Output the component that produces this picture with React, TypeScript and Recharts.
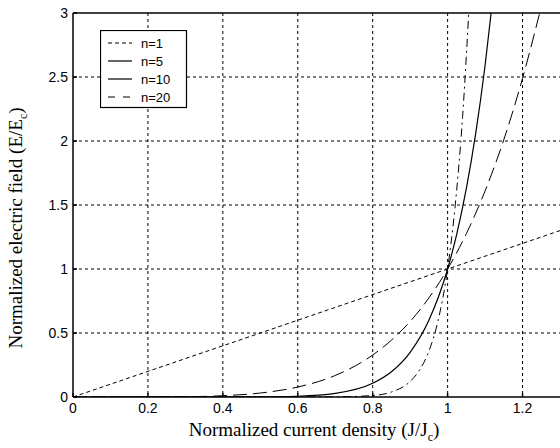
import { CartesianGrid, Line, LineChart, ReferenceLine, XAxis, YAxis } from "recharts";

const xTicks = [0, 0.2, 0.4, 0.6, 0.8, 1, 1.2];
const yTicks = [0, 0.5, 1, 1.5, 2, 2.5, 3];

// values
const n1X = [0, 1.3];
const n1Y = [0, 1.3];

const n5X = [0, 0.3, 0.4, 0.5, 0.6, 0.7, 0.8, 0.85, 0.9, 0.95, 1.0, 1.05, 1.1, 1.15, 1.2, 1.25];
const n5Y = [0, 0.002, 0.01, 0.031, 0.078, 0.168, 0.328, 0.444, 0.59, 0.774, 1, 1.276, 1.61, 2.01, 2.49, 3.05];

const n10X = [0, 0.5, 0.6, 0.7, 0.8, 0.85, 0.9, 0.95, 1.0, 1.025, 1.05, 1.075, 1.1, 1.12];
const n10Y = [0, 0.001, 0.006, 0.028, 0.107, 0.197, 0.349, 0.599, 1, 1.28, 1.63, 2.06, 2.59, 3.1];

const n20X = [0, 0.7, 0.8, 0.85, 0.9, 0.925, 0.95, 0.975, 1.0, 1.02, 1.04, 1.06];
const n20Y = [0, 0.001, 0.012, 0.039, 0.122, 0.21, 0.358, 0.603, 1, 1.49, 2.19, 3.2];

const toRows = (xs: number[], ys: number[]) => xs.map((x, i) => ({ x, y: ys[i] }));

const series = [
  { name: "n=1", data: toRows(n1X, n1Y), dash: "4 3", width: 1 },
  { name: "n=5", data: toRows(n5X, n5Y), dash: "14 6", width: 1 },
  { name: "n=10", data: toRows(n10X, n10Y), dash: undefined, width: 1.2 },
  { name: "n=20", data: toRows(n20X, n20Y), dash: "8 4 2 4", width: 1 },
];

const legendDash = ["4 3", undefined, undefined, "7 8"];

const sans = "Liberation Sans, Arial, sans-serif";
const serif = "Liberation Serif, Times New Roman, serif";

const LegendBox = () => (
  <svg width={88} height={79} style={{ position: "absolute", left: 100, top: 30 }}>
    <rect x={0.5} y={0.5} width={86} height={77} fill="#fff" stroke="#000" strokeWidth={1.2} />
    {series.map((s, i) => {
      const y = 13 + i * 18;
      return (
        <g key={s.name}>
          <line x1={8} x2={32} y1={y} y2={y} stroke="#000" strokeWidth={1.2} strokeDasharray={legendDash[i]} />
          <text x={41} y={y + 5} fontSize={13} fontFamily={sans}>
            {s.name}
          </text>
        </g>
      );
    })}
  </svg>
);

const XTitle = () => (
  <text x={314} y={436} textAnchor="middle" fontSize={19} fontFamily={serif} fill="#000">
    Normalized current density (J/J
    <tspan fontSize={12} dy={5}>c</tspan>
    <tspan dy={-5}>)</tspan>
  </text>
);

const YTitle = () => (
  <text
    x={0}
    y={0}
    transform="translate(22 228) rotate(-90)"
    textAnchor="middle"
    fontSize={19}
    fontFamily={serif}
    fill="#000"
  >
    Normalized electric field (E/E
    <tspan fontSize={12} dy={5}>c</tspan>
    <tspan dy={-5}>)</tspan>
  </text>
);

const tickStyle = { fontSize: 14, fill: "#000", fontFamily: sans };

export default function App() {
  return (
    <div style={{ position: "absolute", left: 0, top: 0, width: 560, height: 448, background: "#fff" }}>
      <LineChart width={560} height={448} margin={{ top: 13, right: 0, left: 23, bottom: 0 }}>
        <CartesianGrid
          stroke="#000"
          strokeDasharray="3 3"
          horizontalValues={[0.5, 1, 1.5, 2, 2.5]}
          verticalValues={[0.2, 0.4, 0.6, 0.8, 1, 1.2]}
        />
        <XAxis
          dataKey="x"
          type="number"
          domain={[0, 1.3]}
          ticks={xTicks}
          allowDataOverflow
          stroke="#000"
          strokeWidth={1.5}
          tick={tickStyle}
          tickSize={-4}
          tickMargin={10}
          height={51}
          label={<XTitle />}
        />
        <YAxis
          type="number"
          domain={[0, 3]}
          ticks={yTicks}
          allowDataOverflow
          stroke="#000"
          strokeWidth={1.5}
          tick={tickStyle}
          tickSize={-4}
          tickMargin={9}
          width={50}
          label={<YTitle />}
        />
        <ReferenceLine y={3} stroke="#000" strokeWidth={1.5} />
        {series.map((s) => (
          <Line
            key={s.name}
            data={s.data}
            dataKey="y"
            name={s.name}
            type="monotone"
            stroke="#000"
            strokeWidth={s.width}
            strokeDasharray={s.dash}
            dot={false}
            isAnimationActive={false}
          />
        ))}
      </LineChart>
      <LegendBox />
    </div>
  );
}
